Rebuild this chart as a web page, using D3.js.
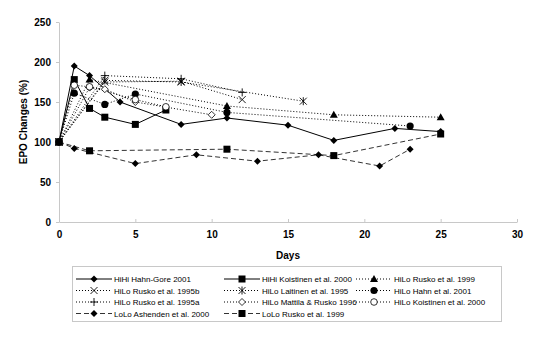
<!DOCTYPE html>
<html>
<head>
<meta charset="utf-8">
<script src="https://cdn.jsdelivr.net/npm/d3@7"></script>
<style>
  body { margin: 0; background: #fff; }
  text { font-family: "Liberation Sans", Arial, sans-serif; }
</style>
</head>
<body>
<div id="chart-area"></div>
<script>
// EPO changes (%) over days, per study
let hihiHahnGore   = [[0,100],[1,195],[2,183],[4,150],[8,122],[11,130],[15,121],[18,102],[22,117],[25,113]];
let hihiKoistinen  = [[0,100],[1,178],[2,142],[3,131],[5,122],[7,140]];
let hiloRusko1999  = [[0,100],[2,178],[11,145],[18,134],[25,131]];
let hiloRusko1995b = [[0,100],[3,175],[8,176],[12,153]];
let hiloLaitinen   = [[0,100],[3,177],[8,175],[16,151]];
let hiloHahn       = [[0,100],[1,161],[3,147],[5,160],[11,137],[23,120]];
let hiloRusko1995a = [[0,100],[3,183],[8,179],[12,162]];
let hiloMattila    = [[0,100],[2,168],[3,166],[5,150],[10,134]];
let hiloKoistinen  = [[0,100],[1,171],[2,169],[5,153],[7,144]];
let loloAshenden   = [[0,100],[1,92],[5,73],[9,84],[13,76],[17,84],[21,70],[23,91]];
let loloRusko1999  = [[0,100],[2,89],[11,91],[18,83],[25,110]];

let seriesNames = ["HiHi Hahn-Gore 2001", "HiHi Koistinen et al. 2000", "HiLo Rusko et al. 1999",
  "HiLo Rusko et al. 1995b", "HiLo Laitinen et al. 1995", "HiLo Hahn et al. 2001",
  "HiLo Rusko et al. 1995a", "HiLo Mattila & Rusko 1996", "HiLo Koistinen et al. 2000",
  "LoLo Ashenden et al. 2000", "LoLo Rusko et al. 1999"];
let seriesData = [hihiHahnGore, hihiKoistinen, hiloRusko1999, hiloRusko1995b, hiloLaitinen,
  hiloHahn, hiloRusko1995a, hiloMattila, hiloKoistinen, loloAshenden, loloRusko1999];

let xTicks = [0, 5, 10, 15, 20, 25, 30];
let yTicks = [0, 50, 100, 150, 200, 250];

// line + marker style per series
let styles = [
  {dash: null,  marker: "diamond"},
  {dash: null,  marker: "square"},
  {dash: "1,2", marker: "triangle"},
  {dash: "1,2", marker: "x"},
  {dash: "1,2", marker: "asterisk"},
  {dash: "1,2", marker: "circle"},
  {dash: "1,2", marker: "plus"},
  {dash: "1,2", marker: "odiamond"},
  {dash: "1,2", marker: "ocircle"},
  {dash: "5,3", marker: "diamond"},
  {dash: "5,3", marker: "square"}
];

let svg = d3.select("#chart-area").append("svg")
  .attr("width", 540)
  .attr("height", 339);

let margin = {left: 59, right: 23, top: 22, bottom: 117};
let x = d3.scaleLinear().domain([0, 30]).range([margin.left, 540 - margin.right]);
let y = d3.scaleLinear().domain([0, 250]).range([339 - margin.bottom, margin.top]);

// axes
let xAxis = d3.axisBottom(x).tickValues(xTicks).tickSizeInner(-3).tickSizeOuter(0).tickPadding(9);
let yAxis = d3.axisLeft(y).tickValues(yTicks).tickSize(3).tickSizeOuter(0).tickPadding(5);

let gx = svg.append("g").attr("transform", "translate(0," + y(0) + ")").call(xAxis);
let gy = svg.append("g").attr("transform", "translate(" + margin.left + ",0)").call(yAxis);
[gx, gy].forEach(g => {
  g.selectAll("path, line").attr("stroke", "#c8c8c8");
  g.selectAll("text").attr("font-size", 10).attr("font-weight", "bold").attr("fill", "#000")
    .style("font-family", "'Liberation Sans', Arial, sans-serif");
});

svg.append("text")
  .attr("x", (x(0) + x(30)) / 2).attr("y", 259)
  .attr("text-anchor", "middle").attr("font-size", 10).attr("font-weight", "bold")
  .text("Days");

svg.append("text")
  .attr("transform", "translate(27," + (y(125)) + ") rotate(-90)")
  .attr("text-anchor", "middle").attr("font-size", 10).attr("font-weight", "bold")
  .text("EPO Changes (%)");

function drawMarker(g, type, cx, cy) {
  let s = 3.5;
  if (type === "diamond") {
    g.append("path").attr("d", `M${cx},${cy-s}L${cx+s},${cy}L${cx},${cy+s}L${cx-s},${cy}Z`).attr("fill", "#000");
  } else if (type === "odiamond") {
    g.append("path").attr("d", `M${cx},${cy-s}L${cx+s},${cy}L${cx},${cy+s}L${cx-s},${cy}Z`)
      .attr("fill", "#fff").attr("stroke", "#000").attr("stroke-width", 0.8);
  } else if (type === "square") {
    g.append("rect").attr("x", cx - 3.5).attr("y", cy - 3.5).attr("width", 7).attr("height", 7).attr("fill", "#000");
  } else if (type === "triangle") {
    g.append("path").attr("d", `M${cx},${cy-4}L${cx+4},${cy+3}L${cx-4},${cy+3}Z`).attr("fill", "#000");
  } else if (type === "circle") {
    g.append("circle").attr("cx", cx).attr("cy", cy).attr("r", 3.6).attr("fill", "#000");
  } else if (type === "ocircle") {
    g.append("circle").attr("cx", cx).attr("cy", cy).attr("r", 3.3)
      .attr("fill", "#fff").attr("stroke", "#000").attr("stroke-width", 0.8);
  } else if (type === "x") {
    g.append("path").attr("d", `M${cx-s},${cy-s}L${cx+s},${cy+s}M${cx+s},${cy-s}L${cx-s},${cy+s}`)
      .attr("stroke", "#000").attr("stroke-width", 0.9);
  } else if (type === "plus") {
    g.append("path").attr("d", `M${cx-4},${cy}L${cx+4},${cy}M${cx},${cy-4}L${cx},${cy+4}`)
      .attr("stroke", "#000").attr("stroke-width", 0.9);
  } else if (type === "asterisk") {
    g.append("path").attr("d", `M${cx-s},${cy-s}L${cx+s},${cy+s}M${cx+s},${cy-s}L${cx-s},${cy+s}M${cx},${cy-4}L${cx},${cy+4}`)
      .attr("stroke", "#000").attr("stroke-width", 0.9);
  }
}

let line = d3.line().x(d => x(d[0])).y(d => y(d[1]));

// draw lines first, then markers on top
seriesData.forEach((data, i) => {
  svg.append("path")
    .datum(data)
    .attr("fill", "none")
    .attr("stroke", i >= 9 ? "#333" : "#000")
    .attr("stroke-width", 1)
    .attr("stroke-dasharray", styles[i].dash)
    .attr("d", line);
});
seriesData.forEach((data, i) => {
  let g = svg.append("g");
  data.forEach(d => drawMarker(g, styles[i].marker, x(d[0]), y(d[1])));
});

// legend
let legend = svg.append("g");
legend.append("rect")
  .attr("x", 72.5).attr("y", 266.5).attr("width", 429).attr("height", 55)
  .attr("fill", "#fff").attr("stroke", "#c8c8c8");

let colX = [76, 224, 356];
let rowY = [279, 290.5, 302, 313.5];
seriesNames.forEach((name, i) => {
  let cx = colX[i % 3], cy = rowY[Math.floor(i / 3)];
  let g = legend.append("g");
  g.append("line")
    .attr("x1", cx).attr("x2", cx + 36).attr("y1", cy).attr("y2", cy)
    .attr("stroke", i >= 9 ? "#333" : "#000")
    .attr("stroke-dasharray", styles[i].dash);
  drawMarker(g, styles[i].marker, cx + 18, cy);
  g.append("text")
    .attr("x", cx + 38).attr("y", cy + 3)
    .attr("font-size", 8)
    .text(name);
});
</script>
</body>
</html>
